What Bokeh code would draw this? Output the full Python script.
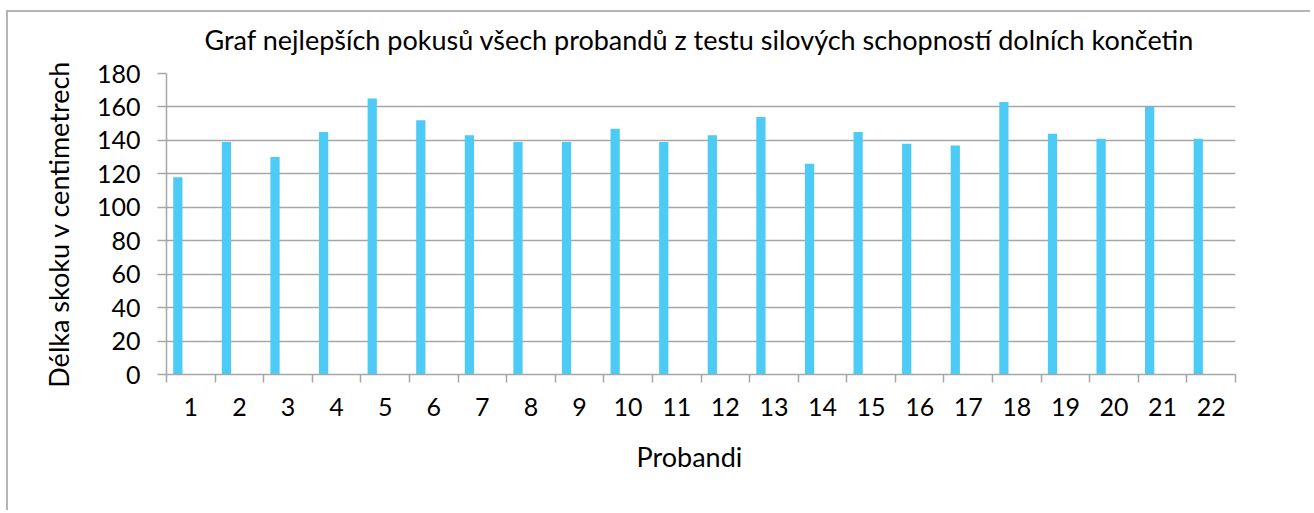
import numpy as np
from bokeh.plotting import figure
from bokeh.models import ColumnDataSource, FixedTicker, Title, Range1d
from bokeh.embed import file_html
from bokeh.resources import INLINE

# ---- data ----
probandi = [str(i) for i in range(1, 23)]
delka_skoku = [118, 139, 130, 145, 165, 152, 143, 139, 139, 147, 139,
               143, 154, 126, 145, 138, 137, 163, 144, 141, 160, 141]
y_ticks = [0, 20, 40, 60, 80, 100, 120, 140, 160, 180]
chart_title = "Graf nejlepších pokusů  všech probandů  z testu silových schopností dolních končetin"
x_title = "Probandi"
y_title = "Délka skoku v centimetrech"

FONT = "Lato"
GRID = "#A6A6A6"
BAR = "#4BCBF5"
TICK_FS = "25px"
TITLE_FS = "27px"

n = len(probandi)
idx = np.arange(n)
bar_offset = 0.2335   # bar centre inside its category slot (Excel-like empty 2nd series)
bar_width = 0.19

src = ColumnDataSource(dict(x=idx + bar_offset, top=delka_skoku, label=probandi))

p = figure(width=1304, height=500, output_backend="svg", toolbar_location=None,
           x_range=Range1d(0, n), y_range=Range1d(0, 180),
           min_border_left=158, min_border_right=77, min_border_top=61, min_border_bottom=138)
p.title = None
p.outline_line_color = None
p.background_fill_color = "white"
p.border_fill_color = "white"
p.styles = {"border-top": "2px solid #B4B4B4", "border-left": "2px solid #B4B4B4",
            "margin-top": "10px", "margin-left": "6px"}

p.vbar(x="x", top="top", width=bar_width, bottom=0, source=src,
       fill_color=BAR, line_color=None)

# x axis: labels at slot centres, tick marks at slot boundaries
xa = p.xaxis[0]
xa.ticker = FixedTicker(ticks=list(idx + 0.5), minor_ticks=list(range(n + 1)))
xa.major_label_overrides = {float(i + 0.5): lab for i, lab in enumerate(probandi)}
xa.major_tick_line_color = None
xa.major_tick_out = 0
xa.major_tick_in = 0
xa.minor_tick_out = 8
xa.minor_tick_in = 0
xa.minor_tick_line_color = GRID
xa.minor_tick_line_width = 1.5
xa.axis_line_color = GRID
xa.axis_line_width = 1.5
xa.major_label_standoff = 15
xa.major_label_text_font = FONT
xa.major_label_text_font_size = TICK_FS
xa.major_label_text_color = "black"

ya = p.yaxis[0]
ya.ticker = FixedTicker(ticks=y_ticks)
ya.major_tick_out = 9
ya.major_tick_in = 0
ya.minor_tick_line_color = None
ya.major_tick_line_color = GRID
ya.major_tick_line_width = 1.5
ya.axis_line_color = GRID
ya.axis_line_width = 1.5
ya.major_label_standoff = 17
ya.major_label_text_font = FONT
ya.major_label_text_font_size = TICK_FS
ya.major_label_text_color = "black"

p.xgrid.visible = False
p.ygrid.grid_line_color = GRID
p.ygrid.grid_line_width = 1.5
p.ygrid.ticker = FixedTicker(ticks=y_ticks)

# thin spacer between plot area and chart title (pushes the title upwards)
p.add_layout(Title(text=" ", text_font_size="1px", standoff=15), "above")
p.add_layout(Title(text=chart_title, align="left", offset=38, standoff=0,
                   text_font=FONT, text_font_size=TITLE_FS, text_font_style="normal",
                   text_color="black"), "above")
p.add_layout(Title(text=y_title, align="center", standoff=38,
                   text_font=FONT, text_font_size=TITLE_FS, text_font_style="normal",
                   text_color="black"), "left")
p.add_layout(Title(text=x_title, align="left", offset=470, standoff=39,
                   text_font=FONT, text_font_size=TITLE_FS, text_font_style="normal",
                   text_color="black"), "below")

open("out.html", "w").write(file_html(p, INLINE))
